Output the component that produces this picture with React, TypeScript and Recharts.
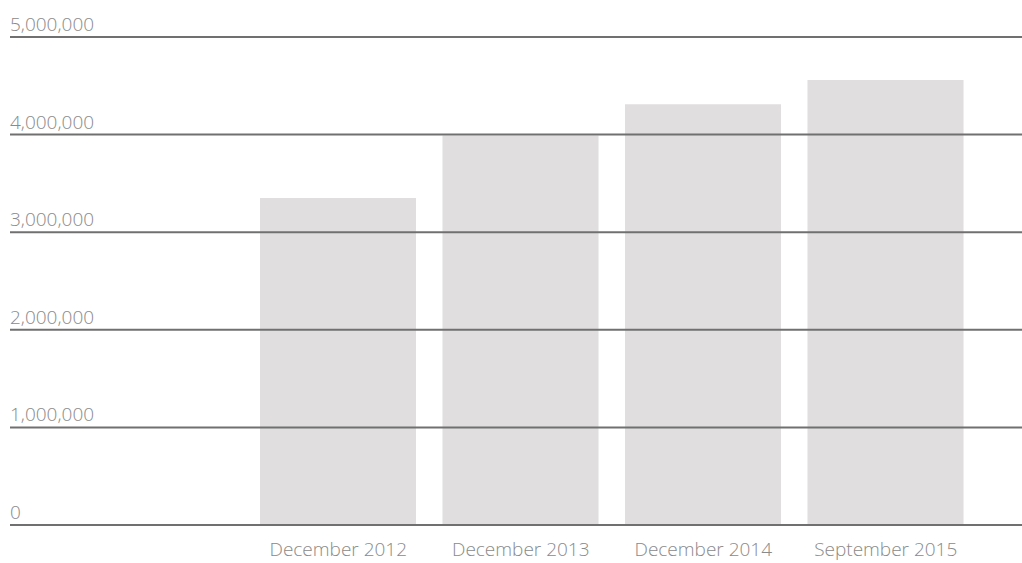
import { BarChart, Bar, XAxis, YAxis, ReferenceLine } from 'recharts'

const periods = ['December 2012', 'December 2013', 'December 2014', 'September 2015']
const totals = [3350000, 3990000, 4310000, 4560000]
const yTicks = [0, 1000000, 2000000, 3000000, 4000000, 5000000]

const data = periods.map((period, i) => ({ period, total: totals[i] }))

const FONT = '"Open Sans", sans-serif'
const TEXT = '#8a8a8a'
const LINE = '#707070'

function YTick({ y, payload }: any) {
  return (
    <text x={10} y={y - 6} fill={TEXT} fontSize={19} fontFamily={FONT} fontWeight={300} textAnchor="start">
      {payload.value.toLocaleString('en-US')}
    </text>
  )
}

function XTick({ x, y, payload }: any) {
  return (
    <text x={x} y={y + 23} fill={TEXT} fontSize={19} fontFamily={FONT} fontWeight={300} textAnchor="middle">
      {payload.value}
    </text>
  )
}

export default function App() {
  return (
    <div style={{ position: 'absolute', left: 0, top: 0, width: 1022, height: 563, background: '#fff' }}>
      <BarChart
        width={1022}
        height={563}
        data={data}
        margin={{ top: 37, right: 0, left: 0, bottom: 0 }}
        barSize={156}
      >
        <XAxis
          dataKey="period"
          height={38}
          axisLine={false}
          tickLine={false}
          tick={<XTick />}
          padding={{ left: 237, right: 45 }}
          interval={0}
        />
        <YAxis
          width={10}
          domain={[0, 5000000]}
          ticks={yTicks}
          axisLine={false}
          tickLine={false}
          tick={<YTick />}
        />
        <Bar dataKey="total" fill="#e0dede" isAnimationActive={false} />
        {yTicks.map(t => (
          <ReferenceLine key={t} y={t} stroke={LINE} strokeWidth={2} />
        ))}
      </BarChart>
    </div>
  )
}
